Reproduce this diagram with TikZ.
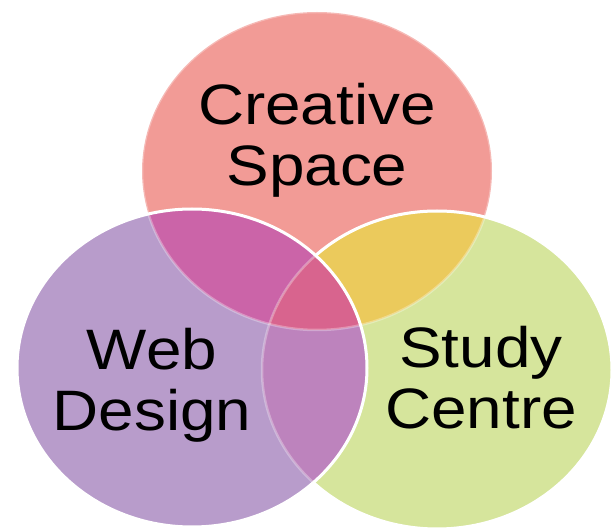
\documentclass[tikz,border=0pt]{standalone}
\usepackage{fontspec}
\setmainfont{Liberation Sans}
\definecolor{topC}{HTML}{F29B96}
\definecolor{leftC}{HTML}{B89CCB}
\definecolor{rightC}{HTML}{D6E59C}
\definecolor{tlC}{HTML}{CB64A8}
\definecolor{trC}{HTML}{EBCA5C}
\definecolor{lrC}{HTML}{BD83BD}
\definecolor{allC}{HTML}{D8648E}
\tikzset{
  lbl/.style={font=\fontsize{57}{61}\selectfont, align=center, xscale=1.12, inner sep=0pt},
  rim/.style={white, line width=3pt},
  faint/.style={white, line width=2.5pt, opacity=0.3},
  rad/.style={x radius=175, y radius=159}
}
\begin{document}
\begin{tikzpicture}[x=1pt,y=-1pt]
  \useasboundingbox (0,0) rectangle (611,529);
  \coordinate (cs) at (317,171);
  \coordinate (wd) at (192,368);
  \coordinate (sc) at (437,370);
  % plain circles
  \fill[topC] (cs) ellipse [rad];
  \fill[rightC] (sc) ellipse [rad];
  \fill[leftC] (wd) ellipse [rad];
  % overlaps
  \begin{scope}
    \clip (cs) ellipse [rad];
    \fill[tlC] (wd) ellipse [rad];
    \fill[trC] (sc) ellipse [rad];
  \end{scope}
  \begin{scope}
    \clip (wd) ellipse [rad];
    \fill[lrC] (sc) ellipse [rad];
    \clip (sc) ellipse [rad];
    \fill[allC] (cs) ellipse [rad];
  \end{scope}
  % rims
  \draw[faint] (cs) ellipse [rad];
  \draw[faint] (sc) ellipse [rad];
  \begin{scope}[even odd rule]
    \clip (-10,-10) rectangle (621,539) (wd) ellipse [rad];
    \draw[rim] (sc) ellipse [rad];
  \end{scope}
  \draw[rim] (wd) ellipse [rad];
  % labels
  \node[lbl] (creative) at (317,140) {Creative\\Space};
  \node[lbl] (web) at (152,385) {Web\\Design};
  \node[lbl] (study) at (481,378) {Study\\Centre};
\end{tikzpicture}
\end{document}
